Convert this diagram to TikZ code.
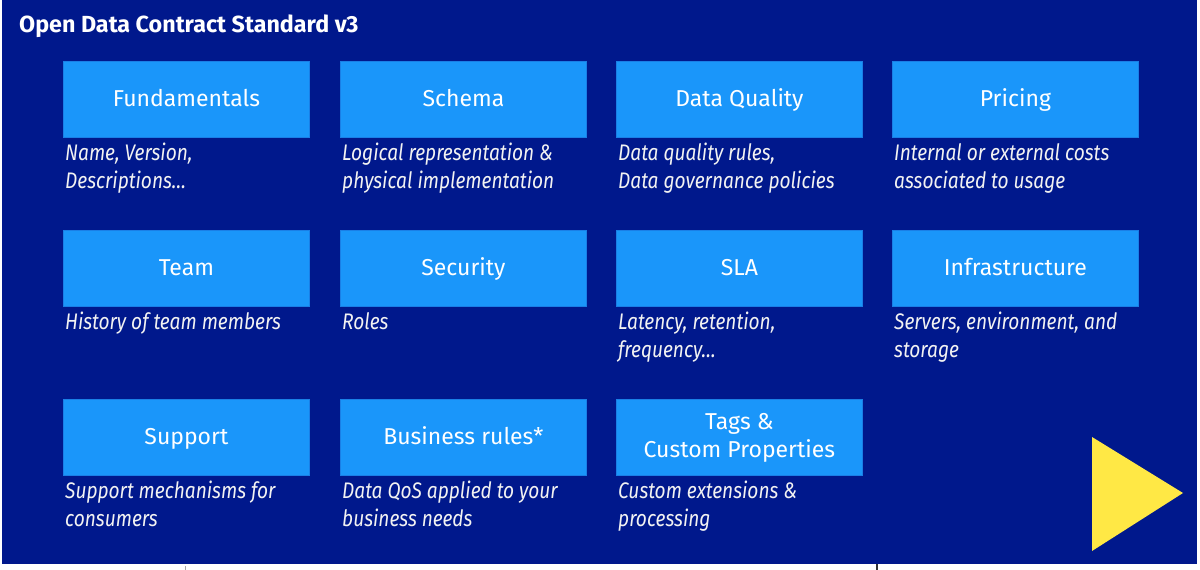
\documentclass[tikz,border=0pt]{standalone}
\usepackage{fontspec}
\setmainfont{Fira Sans}
\newfontfamily\descfont[FakeStretch=0.85]{Fira Sans}
\definecolor{bgblue}{HTML}{00188C}
\definecolor{boxblue}{HTML}{1A96FA}
\definecolor{boxedge}{HTML}{1A7FE6}
\definecolor{txt}{HTML}{F2F2F2}
\definecolor{tri}{HTML}{FFE845}
\tikzset{
  catbase/.style={fill=boxblue, draw=boxedge, line width=0.8pt, minimum width=246pt, minimum height=76pt,
    inner sep=0pt, anchor=north west, text=white, font=\fontsize{23}{28}\selectfont, align=center},
  cat/.style={catbase, text height=18pt, text depth=3pt},
  desc/.style={anchor=north west, inner sep=0pt, text=txt, align=left,
    font=\descfont\itshape\fontsize{22.5}{28}\selectfont},
}
\begin{document}
\begin{tikzpicture}[x=1pt,y=-1pt]
\useasboundingbox (0,0) rectangle (1200,570);
\fill[white] (0,0) rectangle (1200,570);
\fill[bgblue] (2,0) rectangle (1197,564);
\node[anchor=west, inner sep=0pt, text=white, font=\bfseries\fontsize{23.3}{27}\selectfont] (title) at (19,26) {Open Data Contract Standard v3};
% row 1
\node[cat] (fund) at (63,61) {Fundamentals};
\node[cat] (schema) at (340,61) {Schema};
\node[cat] (dq) at (616,61) {Data Quality};
\node[cat] (price) at (892,61) {Pricing};
\node[desc] (dfund) at (65,143) {Name, Version,\\Descriptions…};
\node[desc] (dschema) at (342,143) {Logical representation \&\\physical implementation};
\node[desc] (ddq) at (618,143) {Data quality rules,\\Data governance policies};
\node[desc] (dprice) at (894,143) {Internal or external costs\\associated to usage};
% row 2
\node[cat] (team) at (63,230) {Team};
\node[cat] (sec) at (340,230) {Security};
\node[cat] (sla) at (616,230) {SLA};
\node[cat] (infra) at (892,230) {Infrastructure};
\node[desc] (dteam) at (65,312) {History of team members};
\node[desc] (dsec) at (342,312) {Roles};
\node[desc] (dsla) at (618,312) {Latency, retention,\\frequency…};
\node[desc] (dinfra) at (894,312) {Servers, environment, and\\storage};
% row 3
\node[cat] (supp) at (63,399) {Support};
\node[cat] (biz) at (340,399) {Business rules*};
\node[catbase] (tags) at (616,399) {Tags \&\\Custom Properties};
\node[desc] (dsupp) at (65,481) {Support mechanisms for\\consumers};
\node[desc] (dbiz) at (342,481) {Data QoS applied to your\\business needs};
\node[desc] (dtags) at (618,481) {Custom extensions \&\\processing};
% play triangle
\fill[tri] (1092,437) -- (1183,493) -- (1092,551) -- cycle;
% small marks at bottom
\draw[gray!70, line width=0.8pt] (185.5,566) -- (185.5,570);
\draw[gray!40!black, line width=1.2pt] (877,564) -- (877,570);
\end{tikzpicture}
\end{document}
